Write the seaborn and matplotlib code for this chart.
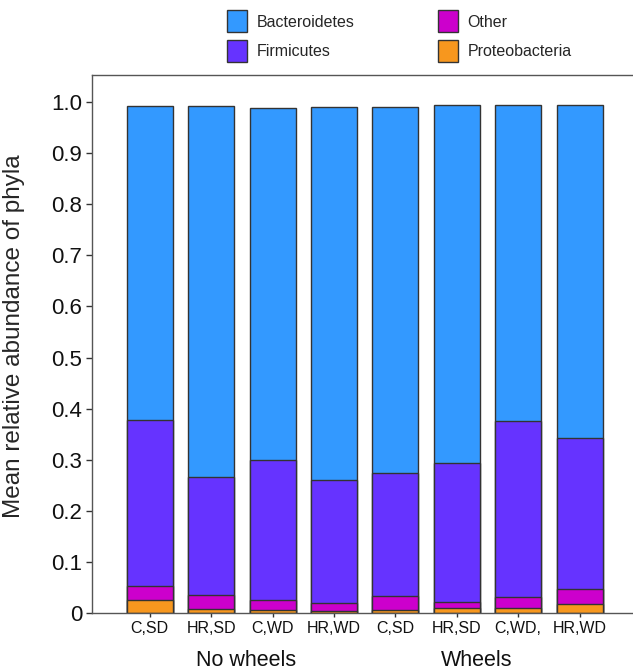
import pandas as pd
import numpy as np
import matplotlib
matplotlib.use("Agg")
import matplotlib.pyplot as plt
from matplotlib.patches import Patch
import seaborn as sns

sns.set_style("ticks")
plt.rcParams['font.family'] = ['Liberation Sans', 'DejaVu Sans']

# Data
labels = ["C,SD", "HR,SD", "C,WD", "HR,WD", "C,SD", "HR,SD", "C,WD,", "HR,WD"]
groups = ["No wheels", "Wheels"]
proteobacteria = [0.025, 0.008, 0.006, 0.004, 0.006, 0.010, 0.010, 0.018]
other = [0.028, 0.028, 0.019, 0.015, 0.028, 0.011, 0.021, 0.028]
firmicutes = [0.324, 0.230, 0.275, 0.242, 0.240, 0.273, 0.345, 0.296]
bacteroidetes = [0.616, 0.727, 0.688, 0.730, 0.717, 0.700, 0.618, 0.653]

colors = {
    "Bacteroidetes": "#3399ff",
    "Firmicutes": "#6633ff",
    "Other": "#cc00cc",
    "Proteobacteria": "#f7971e",
}

df = pd.DataFrame({
    "pos": [str(i) for i in range(len(labels))],
    "Proteobacteria": proteobacteria,
    "Other": other,
    "Firmicutes": firmicutes,
    "Bacteroidetes": bacteroidetes,
})
stack = ["Proteobacteria", "Other", "Firmicutes", "Bacteroidetes"]
cum = df[stack].cumsum(axis=1)

fig = plt.figure(figsize=(6.33, 6.69), dpi=100)
ax = fig.add_axes([92 / 633, 56 / 669, (633 - 92) / 633, (613 - 75) / 669])

# draw cumulative totals from the top layer down
for name in stack[::-1]:
    sns.barplot(x=df["pos"], y=cum[name], color=colors[name], width=0.75,
                edgecolor="#333333", linewidth=1, saturation=1, ax=ax)

ax.set_xlim(-0.94, 7.87)
ax.set_ylim(0, 1.053)
ax.set_yticks(np.arange(0, 1.01, 0.1))
ax.set_yticklabels(["0"] + [f"{v:.1f}" for v in np.arange(0.1, 1.01, 0.1)], fontsize=16)
ax.set_xticks(range(len(labels)))
ax.set_xticklabels(labels, fontsize=11.5)
ax.tick_params(axis="y", length=4, width=1, colors="#333333", labelcolor="#111111", pad=3)
ax.tick_params(axis="x", length=3, width=1, colors="#333333", labelcolor="#111111", pad=3)
ax.set_xlabel("")
ax.set_ylabel("Mean relative abundance of phyla", fontsize=17.5)
ax.yaxis.set_label_coords(-0.124, 0.515)

ax.spines["right"].set_visible(False)
for s in ["left", "top", "bottom"]:
    ax.spines[s].set_color("#555555")
    ax.spines[s].set_linewidth(1)

# group labels under the ticks
for x, g in zip([1.57, 5.32], groups):
    ax.text(x, -0.092, g, ha="center", va="center", fontsize=15.5,
            color="#111111", transform=ax.transData, clip_on=False)

handles = [Patch(facecolor=colors[n], edgecolor="#333333", label=n)
           for n in ["Bacteroidetes", "Firmicutes", "Other", "Proteobacteria"]]
fig.legend(handles=handles, ncol=2, loc="upper left", bbox_to_anchor=(217 / 633, 1.0),
           frameon=False, fontsize=11.5, handlelength=1.25, handleheight=1.75,
           columnspacing=5.2, labelspacing=0.46, handletextpad=0.6,
           borderaxespad=0.25)

plt.savefig("out.png", dpi=100)
plt.close()
